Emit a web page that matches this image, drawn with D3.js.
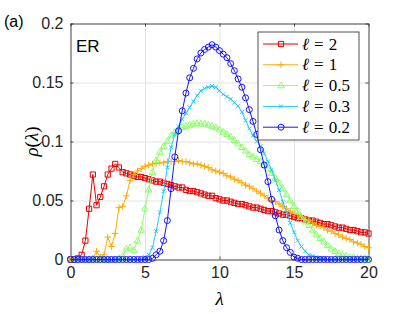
<!DOCTYPE html>
<html lang="en">
<head>
    <meta charset="UTF-8">
    <title>rho(lambda) ER</title>
    <script src="https://d3js.org/d3.v7.min.js"></script>
    <style>
        body { margin: 0; background: #fff; }
        .tick text { font-family: "Liberation Sans", Arial, sans-serif; font-size: 16px; fill: #262626; }
        .grid line { stroke: #e3e3e3; stroke-width: 1px; }
        .grid .domain { display: none; }
        .frame .domain, .frame line { stroke: #262626; stroke-width: 0.8px; }
        .series path.line { fill: none; stroke-width: 1px; }
    </style>
</head>
<body>

<svg width="407" height="314"></svg>

<script>
    // lambda grid, step 0.25
    const lambdas = [
        0, 0.25, 0.5, 0.75, 1, 1.25, 1.5, 1.75, 2, 2.25, 2.5, 2.75, 3, 3.25, 3.5, 3.75,
        4, 4.25, 4.5, 4.75, 5, 5.25, 5.5, 5.75, 6, 6.25, 6.5, 6.75, 7, 7.25, 7.5, 7.75,
        8, 8.25, 8.5, 8.75, 9, 9.25, 9.5, 9.75, 10, 10.25, 10.5, 10.75, 11, 11.25, 11.5, 11.75,
        12, 12.25, 12.5, 12.75, 13, 13.25, 13.5, 13.75, 14, 14.25, 14.5, 14.75, 15, 15.25, 15.5, 15.75,
        16, 16.25, 16.5, 16.75, 17, 17.25, 17.5, 17.75, 18, 18.25, 18.5, 18.75, 19, 19.25, 19.5, 19.75, 20
    ];

    const rhoL2 = [
        0, 0, 0.001, 0.004, 0.016, 0.043, 0.072, 0.046, 0.053, 0.062, 0.072, 0.077, 0.081, 0.078, 0.074, 0.073,
        0.072, 0.071, 0.070, 0.070, 0.069, 0.068, 0.067, 0.066, 0.066, 0.065, 0.064, 0.063, 0.062, 0.061, 0.061, 0.059,
        0.058, 0.058, 0.057, 0.056, 0.055, 0.054, 0.054, 0.052, 0.051, 0.050, 0.050, 0.049, 0.048, 0.047, 0.047, 0.046,
        0.045, 0.044, 0.044, 0.043, 0.042, 0.041, 0.041, 0.040, 0.039, 0.038, 0.038, 0.037, 0.036, 0.035, 0.035, 0.034,
        0.033, 0.033, 0.032, 0.031, 0.030, 0.030, 0.029, 0.028, 0.027, 0.027, 0.026, 0.025, 0.025, 0.024, 0.023, 0.023, 0.022
    ];

    const rhoL1 = [
        0, 0, 0, 0, 0, 0, 0.001, 0.007, 0.002, 0.004, 0.019, 0.011, 0.022, 0.044, 0.045, 0.054,
        0.067, 0.072, 0.075, 0.077, 0.079, 0.080, 0.081, 0.0815, 0.082, 0.082, 0.083, 0.083, 0.083, 0.084, 0.083, 0.083,
        0.082, 0.081, 0.081, 0.080, 0.079, 0.078, 0.076, 0.075, 0.074, 0.073, 0.071, 0.070, 0.068, 0.067, 0.065, 0.063,
        0.062, 0.060, 0.058, 0.056, 0.054, 0.052, 0.050, 0.049, 0.047, 0.045, 0.043, 0.041, 0.039, 0.038, 0.036, 0.034,
        0.033, 0.031, 0.029, 0.028, 0.027, 0.025, 0.024, 0.022, 0.021, 0.019, 0.018, 0.017, 0.015, 0.014, 0.013, 0.011, 0.010
    ];

    const rhoL05 = [
        0, 0, 0, 0, 0, 0, 0, 0, 0, 0, 0, 0, 0, 0.001, 0.003, 0.009,
        0.010, 0.008, 0.016, 0.025, 0.043, 0.059, 0.074, 0.084, 0.091, 0.096, 0.100, 0.105, 0.108, 0.110, 0.112, 0.113,
        0.114, 0.115, 0.1155, 0.115, 0.115, 0.114, 0.113, 0.112, 0.110, 0.108, 0.106, 0.104, 0.101, 0.098, 0.095, 0.092,
        0.089, 0.087, 0.085, 0.083, 0.080, 0.077, 0.073, 0.069, 0.065, 0.060, 0.055, 0.050, 0.045, 0.041, 0.036, 0.032,
        0.029, 0.025, 0.021, 0.018, 0.015, 0.012, 0.009, 0.007, 0.005, 0.004, 0.003, 0.002, 0.002, 0.001, 0.001, 0.001, 0.001
    ];

    const rhoL03 = [
        0, 0, 0, 0, 0, 0, 0, 0, 0, 0, 0, 0, 0, 0, 0, 0,
        0, 0, 0, 0, 0.002, 0.004, 0.010, 0.024, 0.040, 0.058, 0.078, 0.095, 0.106, 0.113, 0.119, 0.124,
        0.129, 0.134, 0.139, 0.143, 0.145, 0.146, 0.147, 0.146, 0.143, 0.140, 0.138, 0.136, 0.133, 0.130, 0.125, 0.118,
        0.111, 0.105, 0.100, 0.096, 0.090, 0.083, 0.076, 0.067, 0.059, 0.049, 0.040, 0.031, 0.023, 0.016, 0.011, 0.007,
        0.004, 0.003, 0.002, 0.001, 0.001, 0, 0, 0, 0, 0, 0, 0, 0, 0, 0, 0, 0
    ];

    const rhoL02 = [
        0, 0, 0, 0, 0, 0, 0, 0, 0, 0, 0, 0, 0, 0, 0, 0,
        0, 0, 0, 0, 0, 0, 0.001, 0.004, 0.007, 0.016, 0.033, 0.060, 0.087, 0.109, 0.126, 0.141,
        0.154, 0.162, 0.170, 0.175, 0.178, 0.180, 0.182, 0.180, 0.177, 0.174, 0.171, 0.166, 0.160, 0.153, 0.146, 0.137,
        0.127, 0.117, 0.106, 0.093, 0.080, 0.066, 0.051, 0.037, 0.025, 0.016, 0.010, 0.006, 0.002, 0.001, 0, 0,
        0, 0, 0, 0, 0, 0, 0, 0, 0, 0, 0, 0, 0, 0, 0, 0, 0
    ];

    const seriesLabels = ["2", "1", "0.5", "0.3", "0.2"];
    const seriesValues = [rhoL2, rhoL1, rhoL05, rhoL03, rhoL02];
    const colors = ["#e60000", "#ffaa00", "#88ff66", "#1ec8ff", "#1414ff"];
    const markers = ["square", "plus", "triangle", "cross", "circle"];

    const xTicks = [0, 5, 10, 15, 20];
    const yTicks = [0, 0.05, 0.1, 0.15, 0.2];

    const svg = d3.select("svg");
    const margin = {left: 70.5, top: 23.5, right: 38.5, bottom: 54.5};
    const width = 407 - margin.left - margin.right,
        height = 314 - margin.top - margin.bottom;

    const x = d3.scaleLinear().domain([0, 20]).range([0, width]);
    const y = d3.scaleLinear().domain([0, 0.2]).range([height, 0]);

    const g = svg.append("g").attr("transform", `translate(${margin.left},${margin.top})`);

    // grid
    g.append("g").attr("class", "grid")
        .attr("transform", `translate(0,${height})`)
        .call(d3.axisBottom(x).tickValues(xTicks).tickSize(-height).tickFormat(""));
    g.append("g").attr("class", "grid")
        .call(d3.axisLeft(y).tickValues(yTicks).tickSize(-width).tickFormat(""));

    // frame with inward ticks
    g.append("g").attr("class", "frame")
        .attr("transform", `translate(0,${height})`)
        .call(d3.axisBottom(x).tickValues(xTicks).tickSizeInner(-3).tickSizeOuter(0).tickPadding(7)
            .tickFormat(d3.format("d")));
    g.append("g").attr("class", "frame")
        .call(d3.axisLeft(y).tickValues(yTicks).tickSizeInner(-3).tickSizeOuter(0).tickPadding(7)
            .tickFormat(d => d === 0 ? "0" : String(d)));
    g.append("g").attr("class", "frame")
        .call(d3.axisTop(x).tickValues(xTicks).tickSizeInner(-3).tickSizeOuter(0).tickFormat(""));
    g.append("g").attr("class", "frame")
        .attr("transform", `translate(${width},0)`)
        .call(d3.axisRight(y).tickValues(yTicks).tickSizeInner(-3).tickSizeOuter(0).tickFormat(""));

    function markerPath(type) {
        switch (type) {
            case "square": return "M-2.6,-2.6H2.6V2.6H-2.6Z";
            case "plus": return "M-3.3,0H3.3M0,-3.3V3.3";
            case "triangle": return "M0,-3.6L3.2,2.2H-3.2Z";
            case "cross": return "M-2,-2L2,2M-2,2L2,-2";
            case "circle": return "M3,0A3,3 0 1,1 -3,0A3,3 0 1,1 3,0Z";
        }
    }

    const line = d3.line()
        .x((d, i) => x(lambdas[i]))
        .y(d => y(d));

    seriesValues.forEach((vals, k) => {
        const s = g.append("g").attr("class", "series");
        s.append("path").attr("class", "line")
            .attr("d", line(vals))
            .attr("stroke", colors[k]);
        s.selectAll("path.mk")
            .data(vals)
            .enter().append("path")
            .attr("class", "mk")
            .attr("transform", (d, i) => `translate(${x(lambdas[i])},${y(d)})`)
            .attr("d", markerPath(markers[k]))
            .attr("fill", "none")
            .attr("stroke", colors[k])
            .attr("stroke-width", 1);
    });

    // legend
    const legend = g.append("g").attr("transform", `translate(${258 - margin.left},${32 - margin.top})`);
    legend.append("rect")
        .attr("x", 0).attr("y", 0)
        .attr("width", 101).attr("height", 108)
        .attr("fill", "#fff")
        .attr("stroke", "#262626")
        .attr("stroke-width", 0.8);
    seriesLabels.forEach((lab, k) => {
        const yy = 12 + k * 20.8;
        legend.append("line")
            .attr("x1", 5).attr("x2", 40)
            .attr("y1", yy).attr("y2", yy)
            .attr("stroke", colors[k]).attr("stroke-width", 1);
        legend.append("path")
            .attr("transform", `translate(23,${yy})`)
            .attr("d", markerPath(markers[k]))
            .attr("fill", "none").attr("stroke", colors[k]);
        const t = legend.append("text")
            .attr("x", 44).attr("y", yy + 5.5)
            .attr("font-family", "'Liberation Serif', 'DejaVu Serif', serif")
            .attr("font-size", 17)
            .attr("fill", "#000");
        t.append("tspan").attr("font-style", "italic").text("ℓ");
        t.append("tspan").attr("dx", 5).text("=");
        t.append("tspan").attr("dx", 5).text(lab);
    });

    // texts
    svg.append("text").attr("x", 4).attr("y", 27)
        .attr("font-family", "'Liberation Sans', Arial, sans-serif")
        .attr("font-size", 16).attr("fill", "#000").text("(a)");
    svg.append("text").attr("x", 76).attr("y", 52)
        .attr("font-family", "'Liberation Sans', Arial, sans-serif")
        .attr("font-size", 17).attr("fill", "#000").text("ER");
    svg.append("text")
        .attr("transform", `translate(38,${margin.top + height / 2}) rotate(-90)`)
        .attr("text-anchor", "middle")
        .attr("font-family", "'Liberation Serif', 'DejaVu Serif', serif")
        .attr("font-size", 19).attr("fill", "#000")
        .html('<tspan font-style="italic">ρ</tspan>(<tspan font-style="italic">λ</tspan>)');
    svg.append("text")
        .attr("x", margin.left + width / 2).attr("y", 305)
        .attr("text-anchor", "middle")
        .attr("font-family", "'Liberation Serif', 'DejaVu Serif', serif")
        .attr("font-style", "italic")
        .attr("font-size", 19).attr("fill", "#000").text("λ");
</script>

</body>
</html>
